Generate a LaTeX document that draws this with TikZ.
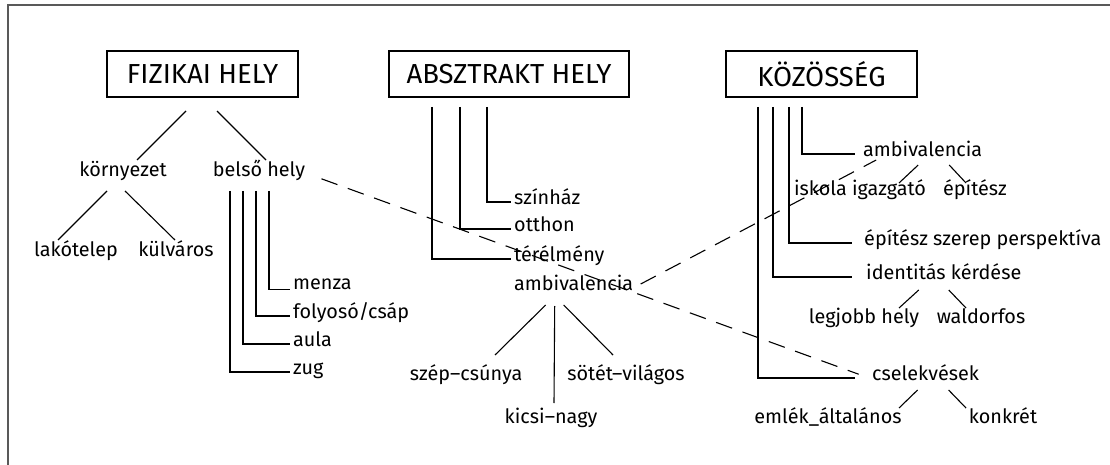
\documentclass[tikz,border=0pt]{standalone}
\usepackage{fontspec}
\setmainfont{Fira Sans}
\usetikzlibrary{positioning}
\tikzset{title/.style={draw, line width=1.2pt, minimum height=46pt, inner sep=0pt, font=\fontsize{27.5}{30}\selectfont},
         term/.style={inner sep=3pt, font=\fontsize{19.8}{22}\selectfont},
         branch/.style={line width=1.1pt},
         link/.style={line width=1.1pt, dash pattern=on 17pt off 11pt},
        }
\begin{document}
\begin{tikzpicture}[x=1pt, y=-1pt]
        \useasboundingbox (0,0) rectangle (1110,465);
        \draw[line width=1.6pt, black!65](8,465)--(8,5)--(1110,5);

        % the three main headings
        \node[title, minimum width=191pt](fiz)at(202.5,74){FIZIKAI HELY};
        \node[title, minimum width=240pt](abs)at(509,74){ABSZTRAKT HELY};
        \node[title, minimum width=191pt](koz)at(821.5,74){KÖZÖSSÉG};

        % fizikai hely
        \node[term, anchor=mid](korny)at(123,174){környezet};
        \node[term, anchor=mid](belso)at(259,174){belső hely};
        \node[term, anchor=mid](lako)at(76,254){lakótelep};
        \node[term, anchor=mid](kulv)at(176,254){külváros};
        \node[term, anchor=mid west](menza)at(290,287){menza};
        \node[term, anchor=mid west](folyo)at(290,316){folyosó/csáp};
        \node[term, anchor=mid west](aula)at(290,344){aula};
        \node[term, anchor=mid west](zug)at(290,372){zug};

        \draw[branch]([shift={(-16.5,37)}]fiz.center)--([shift={(14,-14)}]korny.mid);
        \draw[branch]([shift={(14.5,37)}]fiz.center)--([shift={(7,-14)}]belso.mid);
        \draw[branch]([shift={(-16,17)}]korny.mid)--([shift={(-18,-14)}]lako.mid);
        \draw[branch]([shift={(2,17)}]korny.mid)--([shift={(-1,-14)}]kulv.mid);

        \draw[branch]([shift={(10,17)}]belso.mid)|-(menza.base west);
        \draw[branch]([shift={(-3,17)}]belso.mid)|-(folyo.mid west);
        \draw[branch]([shift={(-16,17)}]belso.mid)|-(aula.mid west);
        \draw[branch]([shift={(-29,17)}]belso.mid)|-(zug.mid west);

        % absztrakt hely
        \node[term, anchor=mid west](szinhaz)at(511,202){színház};
        \node[term, anchor=mid west](otthon)at(511,229){otthon};
        \node[term, anchor=mid west](terel)at(511,259){térélmény};
        \node[term, anchor=mid west](ambA)at(511,288){ambivalencia};
        \node[term, anchor=mid](szep)at(466,378){szép–csúnya};
        \node[term, anchor=mid](kicsi)at(551,421){kicsi–nagy};
        \node[term, anchor=mid](sotet)at(626,378){sötét–világos};

        \draw[branch]([shift={(-22,33)}]abs.center)|-(szinhaz.mid west);
        \draw[branch]([shift={(-49,33)}]abs.center)|-(otthon.mid west);
        \draw[branch]([shift={(-77,33)}]abs.center)|-(terel.mid west);

        \draw[branch]([shift={(-28,17)}]ambA.mid)--([shift={(29,-23)}]szep.mid);
        \draw[branch]([shift={(-19,18)}]ambA.mid)--([shift={(3,-18)}]kicsi.mid);
        \draw[branch]([shift={(-10,17)}]ambA.mid)--([shift={(-13,-23)}]sotet.mid);

        % kozosseg
        \node[term, anchor=mid west](ambK)at(860,154){ambivalencia};
        \node[term, anchor=mid](iskola)at(860,193){iskola igazgató};
        \node[term, anchor=mid](epitesz)at(975,193){építész};
        \node[term, anchor=mid west](szerep)at(861,243){építész szerep perspektíva};
        \node[term, anchor=mid west](ident)at(863,277){identitás kérdése};
        \node[term, anchor=mid](legjobb)at(864,321){legjobb hely};
        \node[term, anchor=mid](waldorf)at(981,321){waldorfos};
        \node[term, anchor=mid west](csel)at(869,378){cselekvések};
        \node[term, anchor=mid](emlek)at(828,421){emlék\_általános};
        \node[term, anchor=mid](konkret)at(1003,421){konkrét};

        \draw[branch, shorten >=5pt]([shift={(-19.5,33)}]koz.center)|-(ambK.mid west);
        \draw[branch, shorten >=9pt]([shift={(-32.5,33)}]koz.center)|-(szerep.mid west);
        \draw[branch, shorten >=11pt]([shift={(-48.5,33)}]koz.center)|-(ident.mid west);
        \draw[branch, shorten >=14pt]([shift={(-63.5,33)}]koz.center)|-(csel.mid west);

        \draw[branch]([shift={(-4.5,11)}]ambK.mid)--([shift={(39,-10)}]iskola.mid);
        \draw[branch]([shift={(26.5,11)}]ambK.mid)--([shift={(-9,-10)}]epitesz.mid);
        \draw[branch]([shift={(-25,13)}]ident.mid)--([shift={(35,-13)}]legjobb.mid);
        \draw[branch]([shift={(5,13)}]ident.mid)--([shift={(-15,-13)}]waldorf.mid);
        \draw[branch]([shift={(-8,12)}]csel.mid)--([shift={(71,-13)}]emlek.mid);
        \draw[branch]([shift={(23,12)}]csel.mid)--([shift={(-37,-13)}]konkret.mid);

        % cross links
        \draw[link, shorten <=14pt, shorten >=11pt](belso.mid east)--(csel.mid west);
        \draw[link]([shift={(67,-4)}]ambA.mid)--([shift={(-46.5,6)}]ambK.mid);
    \end{tikzpicture}
\end{document}
